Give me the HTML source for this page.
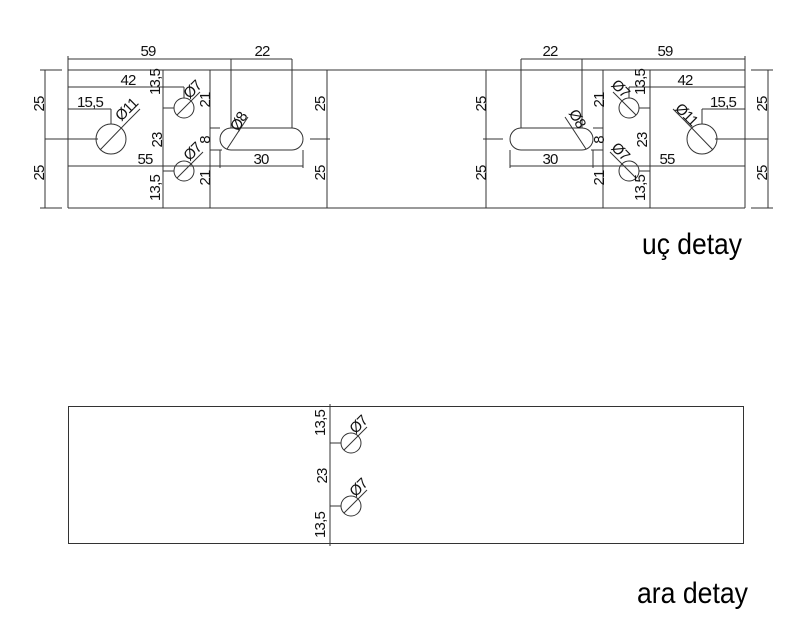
<!DOCTYPE html>
<html><head><meta charset="utf-8"><style>
html,body{margin:0;padding:0;background:#fff;}
svg{display:block}
text{font-family:"Liberation Sans Narrow","Liberation Sans",sans-serif;font-size:15px;letter-spacing:-0.8px;fill:#111;}
.t{font-family:"Liberation Sans Narrow","Liberation Sans",sans-serif;font-size:30px;letter-spacing:0;fill:#000;}
</style></head><body>
<svg width="800" height="632" viewBox="0 0 800 632" xmlns="http://www.w3.org/2000/svg">
<defs>
<g id="half" stroke="#333" stroke-width="1" fill="none">
  <line x1="68" y1="70" x2="406" y2="70"/>
  <line x1="68" y1="208" x2="406" y2="208"/>
  <line x1="68" y1="70" x2="68" y2="208"/>
  <line x1="163" y1="70" x2="163" y2="208"/>
  <line x1="210" y1="70" x2="210" y2="208"/>
  <line x1="327" y1="70" x2="327" y2="208"/>
  <line x1="45" y1="70" x2="45" y2="208"/>
  <line x1="40" y1="70" x2="62" y2="70"/>
  <line x1="40" y1="208" x2="62" y2="208"/>
  <line x1="45" y1="139" x2="98" y2="139"/>
  <line x1="68" y1="59" x2="292" y2="59"/>
  <line x1="68" y1="56" x2="68" y2="70"/>
  <line x1="231" y1="59" x2="231" y2="128"/>
  <line x1="292" y1="59" x2="292" y2="128"/>
  <line x1="68" y1="87" x2="184" y2="87"/>
  <line x1="184" y1="87" x2="184" y2="98"/>
  <line x1="68" y1="109" x2="111" y2="109"/>
  <line x1="111" y1="109" x2="111" y2="124"/>
  <line x1="68" y1="166" x2="303" y2="166"/>
  <line x1="220" y1="150" x2="220" y2="168"/>
  <line x1="303" y1="150" x2="303" y2="168"/>
  <line x1="210" y1="128" x2="220" y2="128"/>
  <line x1="210" y1="150" x2="222" y2="150"/>
  <circle cx="111" cy="139" r="15"/>
  <line x1="100" y1="150" x2="128" y2="121"/>
  <line x1="128" y1="121" x2="140" y2="109"/>
  <circle cx="184" cy="108" r="10"/>
  <line x1="177" y1="115" x2="200" y2="92"/>
  <line x1="163" y1="108" x2="174" y2="108"/>
  <circle cx="184" cy="171" r="10"/>
  <line x1="177" y1="178" x2="203" y2="152"/>
  <line x1="163" y1="171" x2="174" y2="171"/>
  <path d="M231,128 H292 A11,11 0 0 1 292,150 H231 A11,11 0 0 1 231,128 Z"/>
  <line x1="227" y1="149" x2="248" y2="117"/>
  <line x1="310" y1="139" x2="330" y2="139"/>
</g>
</defs>
<use href="#half"/>
<use href="#half" transform="translate(813,0) scale(-1,1)"/>
<g stroke="#333" stroke-width="1" fill="none">
  <line x1="327" y1="70" x2="486" y2="70"/>
  <line x1="327" y1="208" x2="486" y2="208"/>
  <rect x="68.5" y="406.5" width="675" height="137"/>
  <line x1="330" y1="404" x2="330" y2="546"/>
  <circle cx="351" cy="443" r="10"/>
  <line x1="344" y1="450" x2="367" y2="427"/>
  <line x1="330" y1="443" x2="341" y2="443"/>
  <circle cx="351" cy="506" r="10"/>
  <line x1="344" y1="513" x2="367" y2="490"/>
  <line x1="330" y1="506" x2="341" y2="506"/>
</g>
<g text-anchor="middle">
  <text x="148" y="56">59</text>
  <text x="262" y="56">22</text>
  <text x="128" y="85">42</text>
  <text x="90" y="107">15,5</text>
  <text x="145" y="164">55</text>
  <text x="261" y="164">30</text>
  <text transform="translate(44,104) rotate(-90)">25</text>
  <text transform="translate(44,173) rotate(-90)">25</text>
  <text transform="translate(160,82) rotate(-90)">13,5</text>
  <text transform="translate(162,140) rotate(-90)">23</text>
  <text transform="translate(160,188) rotate(-90)">13,5</text>
  <text transform="translate(210,100) rotate(-90)">21</text>
  <text transform="translate(210,140) rotate(-90)">8</text>
  <text transform="translate(210,178) rotate(-90)">21</text>
  <text transform="translate(325,104) rotate(-90)">25</text>
  <text transform="translate(325,173) rotate(-90)">25</text>
  <text transform="translate(130,113) rotate(-45)">Ø11</text>
  <text transform="translate(196,93) rotate(-45)">Ø7</text>
  <text transform="translate(196,155) rotate(-45)">Ø7</text>
  <text transform="translate(243,124) rotate(-60)">Ø8</text>
  <text x="550" y="56">22</text>
  <text x="665" y="56">59</text>
  <text x="685" y="85">42</text>
  <text x="723" y="107">15,5</text>
  <text x="667" y="164">55</text>
  <text x="550" y="164">30</text>
  <text transform="translate(486,104) rotate(-90)">25</text>
  <text transform="translate(486,173) rotate(-90)">25</text>
  <text transform="translate(645,82) rotate(-90)">13,5</text>
  <text transform="translate(647,140) rotate(-90)">23</text>
  <text transform="translate(645,188) rotate(-90)">13,5</text>
  <text transform="translate(604,100) rotate(-90)">21</text>
  <text transform="translate(604,140) rotate(-90)">8</text>
  <text transform="translate(604,178) rotate(-90)">21</text>
  <text transform="translate(767,104) rotate(-90)">25</text>
  <text transform="translate(767,173) rotate(-90)">25</text>
  <text transform="translate(683,118) rotate(45)">Ø11</text>
  <text transform="translate(617,92) rotate(45)">Ø7</text>
  <text transform="translate(617,155) rotate(45)">Ø7</text>
  <text transform="translate(573,121) rotate(60)">Ø8</text>
  <text transform="translate(325,423) rotate(-90)">13,5</text>
  <text transform="translate(327,476) rotate(-90)">23</text>
  <text transform="translate(325,525) rotate(-90)">13,5</text>
  <text transform="translate(362,428) rotate(-45)">Ø7</text>
  <text transform="translate(362,491) rotate(-45)">Ø7</text>
</g>
<text class="t" x="642" y="254" textLength="100" lengthAdjust="spacingAndGlyphs">uç detay</text>
<text class="t" x="637" y="603" textLength="111" lengthAdjust="spacingAndGlyphs">ara detay</text>
</svg>
</body></html>
